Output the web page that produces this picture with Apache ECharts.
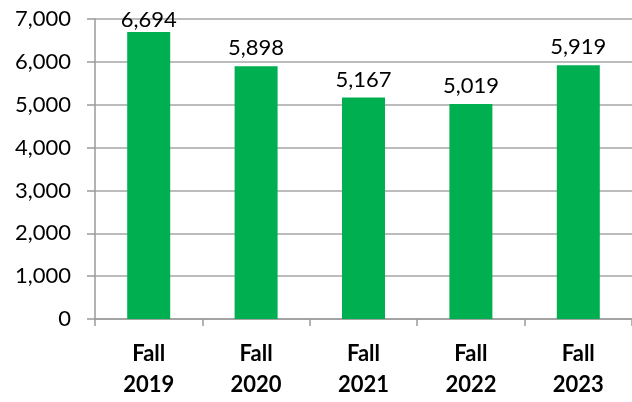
<!DOCTYPE html>
<html>
<head>
<meta charset="utf-8">
<script src="https://cdn.jsdelivr.net/npm/echarts@6/dist/echarts.min.js"></script>
<style>
html, body { margin: 0; padding: 0; background: #fff; }
#main { width: 632px; height: 402px; }
</style>
</head>
<body>
<div id="main"></div>
<script>
// data
var terms = ['Fall\n2019', 'Fall\n2020', 'Fall\n2021', 'Fall\n2022', 'Fall\n2023'];
var headcount = [6694, 5898, 5167, 5019, 5919];

var myChart = echarts.init(document.getElementById('main'));

// tallest label sits tighter to its bar so it stays inside the plot
var barData = headcount.map(function (v, i) {
    return i === 0 ? { value: v, label: { distance: 1 } } : v;
});

var option = {
    animation: false,
    textStyle: { fontFamily: 'Lato, "Open Sans", sans-serif' },
    grid: {
        left: 95,
        right: -3,
        top: 19,
        bottom: 83
    },
    xAxis: {
        type: 'category',
        data: terms,
        axisLine: { lineStyle: { color: '#9a9a9a', width: 1.5 } },
        axisTick: { show: true, length: 7, lineStyle: { color: '#9a9a9a', width: 1.5 } },
        axisLabel: {
            color: '#000',
            fontSize: 22,
            fontWeight: 'bold',
            lineHeight: 31,
            margin: 19
        }
    },
    yAxis: {
        type: 'value',
        min: 0,
        max: 7000,
        interval: 1000,
        axisLine: { show: true, lineStyle: { color: '#9a9a9a', width: 1.5 } },
        axisTick: { show: true, length: 8, lineStyle: { color: '#9a9a9a', width: 1.5 } },
        splitLine: { lineStyle: { color: '#a6a6a6', width: 1.5 } },
        axisLabel: {
            color: '#000',
            fontSize: 22,
            margin: 24,
            formatter: function (v) { return v.toLocaleString('en-US'); }
        }
    },
    series: [
        {
            type: 'bar',
            data: barData,
            barWidth: 43,
            itemStyle: { color: '#00B050' },
            label: {
                show: true,
                position: 'top',
                distance: 7,
                color: '#000',
                fontSize: 22,
                formatter: function (p) { return p.value.toLocaleString('en-US'); }
            }
        }
    ]
};

myChart.setOption(option);
</script>
</body>
</html>
